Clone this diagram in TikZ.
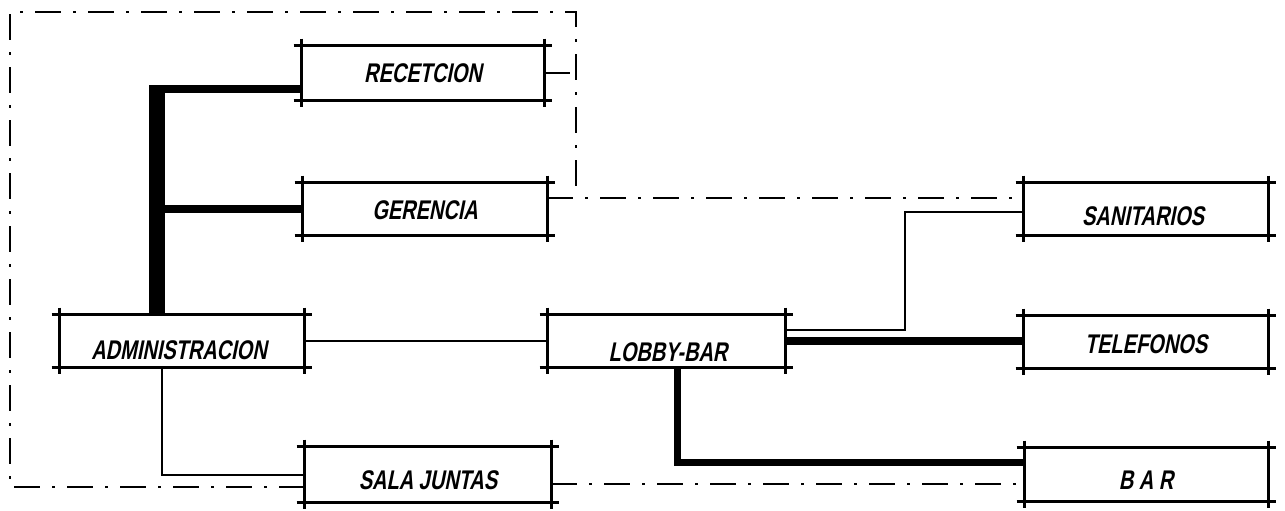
\documentclass[tikz,border=0pt]{standalone}
\usepackage{fontspec}
\newfontfamily\handfont[FakeStretch=0.74,FakeSlant=0.2]{Liberation Sans}
\usetikzlibrary{calc}

\tikzset{
  room/.style={draw=none, rectangle, inner sep=0pt},
  boxline/.style={line width=1.4pt},
  lbl/.style={font=\handfont\fontsize{13.5}{15}\selectfont, inner sep=0pt},
  thinlink/.style={line width=1pt},
  heavylink/.style={line width=4pt},
  trunkline/.style={line width=8pt},
  zone/.style={line width=1.2pt, dash pattern=on 13pt off 6pt on 1.5pt off 6pt},
}

\newcommand{\roomframe}[1]{%
  \draw[boxline] ([xshift=-4pt]#1.north west) -- ([xshift=4pt]#1.north east);
  \draw[boxline] ([xshift=-4pt]#1.south west) -- ([xshift=4pt]#1.south east);
  \draw[boxline] ([yshift=3.5pt]#1.north west) -- ([yshift=-3.5pt]#1.south west);
  \draw[boxline] ([yshift=3.5pt]#1.north east) -- ([yshift=-3.5pt]#1.south east);
}

\begin{document}
\begin{tikzpicture}[x=0.5pt,y=-0.5pt]
\useasboundingbox (0,0) rectangle (1285,510);

% rooms
\node[room, minimum width=121pt, minimum height=27pt] (rec) at (423,73) {};
\node[room, minimum width=122pt, minimum height=26pt] (ger) at (425,209) {};
\node[room, minimum width=122pt, minimum height=26pt] (adm) at (182,341) {};
\node[room, minimum width=118.5pt, minimum height=26pt] (lob) at (666.5,341) {};
\node[room, minimum width=123pt, minimum height=27.5pt] (sal) at (428,474.5) {};
\node[room, minimum width=122pt, minimum height=26pt] (san) at (1146,209) {};
\node[room, minimum width=122pt, minimum height=26pt] (tel) at (1146,342) {};
\node[room, minimum width=121.5pt, minimum height=26.5pt] (bar) at (1146.5,474.5) {};

\roomframe{rec}
\roomframe{ger}
\roomframe{adm}
\roomframe{lob}
\roomframe{sal}
\roomframe{san}
\roomframe{tel}
\roomframe{bar}

% labels
\node[lbl] (rec-t) at (423,73) {\bfseries RECETCION};
\node[lbl] (ger-t) at (425,210) {\bfseries GERENCIA};
\node[lbl] (adm-t) at (179,350) {\bfseries ADMINISTRACION};
\node[lbl] (lob-t) at (668,352) {\bfseries LOBBY-BAR};
\node[lbl] (sal-t) at (428,480) {\bfseries SALA JUNTAS};
\node[lbl] (san-t) at (1143,216) {\bfseries SANITARIOS};
\node[lbl] (tel-t) at (1146,344) {\bfseries TELEFONOS};
\node[lbl] (bar-t) at (1146,480) {\bfseries B A R};

% heavy trunk to reception / gerencia
\coordinate (trunktop) at (157,85);
\coordinate (reccorner) at (149,89);
\draw[trunkline] (trunktop) -- (trunktop |- adm.north);
\draw[heavylink] (reccorner) -- (reccorner -| rec.west);
\draw[heavylink] (trunktop |- ger.west) -- (ger.west);

% thin links
\draw[thinlink] (adm.east) -- (lob.west);
\draw[thinlink] ([xshift=-10pt]adm.south) |- (sal.west);
\coordinate (sanbend) at (905,212);
\draw[thinlink] ([yshift=5.5pt]lob.east) -| (sanbend) -- (sanbend -| san.west);

% heavy links from lobby
\draw[heavylink] (lob.east) -- (lob.east -| tel.west);
\draw[heavylink, line width=3.5pt] ([xshift=5.25pt]lob.south) |- ([yshift=6.25pt]bar.west);

% zone boundary (dash-dot)
\coordinate (zbl) at (10,487);
\coordinate (ztl) at (10,12);
\coordinate (ztr) at (576,12);
\coordinate (zjoin) at (576,198);
\draw[zone] ([yshift=-6.25pt]sal.west) -- (zbl) -- (ztl) -- (ztr) -- (zjoin);
\draw[zone] (rec.east) -- (rec.east -| ztr);
\draw[zone] ([yshift=5.5pt]ger.east) -- ([yshift=5.5pt]ger.east -| san.west);
\draw[zone] ([yshift=-4.75pt]sal.east) -- ([yshift=-4.75pt]sal.east -| bar.west);
\end{tikzpicture}
\end{document}
